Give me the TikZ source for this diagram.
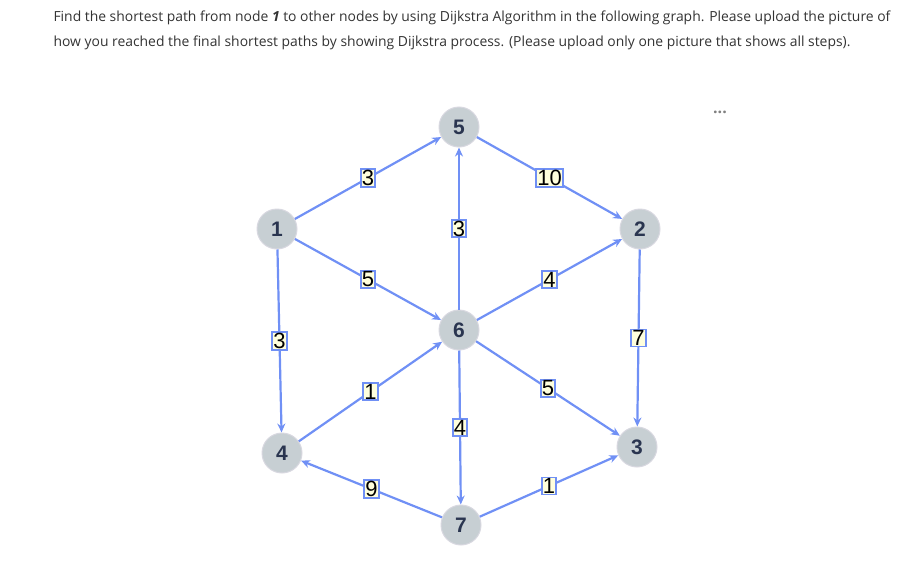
\documentclass[tikz,border=0pt]{standalone}
\usepackage{fontspec}
\setmainfont{Open Sans}
\newfontfamily\arialf{Liberation Sans}
\usetikzlibrary{arrows.meta}
\definecolor{edge}{HTML}{7090F5}
\definecolor{nfill}{HTML}{C7CFD3}
\definecolor{nline}{HTML}{D8D8E0}
\definecolor{lfill}{HTML}{FFFFDD}
\definecolor{ntext}{HTML}{2A3550}
\definecolor{ttext}{HTML}{333333}
\tikzset{
 vert/.style={circle,fill=nfill,draw=nline,line width=1pt,minimum size=40pt,inner sep=0pt,font=\arialf\fontsize{21}{21}\selectfont\bfseries,text=ntext},
 conn/.style={draw=edge,line width=2.2pt,-{Stealth[length=9pt,width=8pt]}},
 wt/.style={fill=lfill,draw=edge,line width=1.8pt,inner sep=1pt,font=\arialf\fontsize{22}{22}\selectfont,text=black},
}
\begin{document}
\begin{tikzpicture}[x=1pt,y=-1pt]
\useasboundingbox (0,0) rectangle (917,578);
\node[anchor=base west,font=\fontsize{13.9}{14}\selectfont,text=ttext] (t1) at (50,22) {Find the shortest path from node \textbf{\textit{1}} to other nodes by using Dijkstra Algorithm in the following graph. Please upload the picture of};
\node[anchor=base west,font=\fontsize{13.9}{14}\selectfont,text=ttext] (t2) at (50,46) {how you reached the final shortest paths by showing Dijkstra process. (Please upload only one picture that shows all steps).};
\node[font=\fontsize{16}{16}\selectfont\bfseries,text=gray] (dots) at (720,112) {...};
\node[vert] (n1) at (277,229) {1};
\node[vert] (n5) at (459,127) {5};
\node[vert] (n2) at (640,229) {2};
\node[vert] (n6) at (459,330) {6};
\node[vert] (n4) at (282,453) {4};
\node[vert] (n3) at (637,447) {3};
\node[vert] (n7) at (461,525) {7};
\path[conn] (n1) -- node[wt]{3} (n5);
\path[conn] (n5) -- node[wt]{10} (n2);
\path[conn] (n6) -- node[wt]{3} (n5);
\path[conn] (n1) -- node[wt]{5} (n6);
\path[conn] (n6) -- node[wt]{4} (n2);
\path[conn] (n1) -- node[wt]{3} (n4);
\path[conn] (n2) -- node[wt]{7} (n3);
\path[conn] (n4) -- node[wt]{1} (n6);
\path[conn] (n6) -- node[wt]{5} (n3);
\path[conn] (n6) -- node[wt]{4} (n7);
\path[conn] (n7) -- node[wt]{9} (n4);
\path[conn] (n7) -- node[wt]{1} (n3);
\end{tikzpicture}
\end{document}
